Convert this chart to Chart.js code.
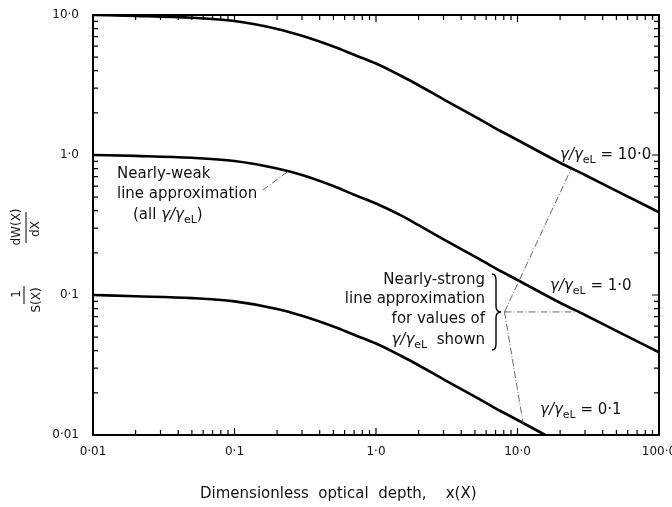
<!DOCTYPE html>
<html>
<head>
<meta charset="utf-8">
<script src="https://cdn.jsdelivr.net/npm/chart.js@4/dist/chart.umd.min.js"></script>
<style>
  html, body { margin: 0; padding: 0; background: #fff; }
  canvas { display: block; }
</style>
</head>
<body>
<canvas id="chart" width="672" height="507"></canvas>
<script>
// optical depth x(X)
const xValues = [0.01, 0.02, 0.05, 0.1, 0.2, 0.3, 0.5, 0.7, 1, 1.5, 2, 3, 5, 7, 10, 20, 30, 50, 100];
// gamma/gamma_eL = 10.0
const curveTen = [10.0, 9.85, 9.55, 9.05, 7.95, 7.1, 5.95, 5.2, 4.5, 3.68, 3.15, 2.5, 1.88, 1.55, 1.28, 0.88, 0.72, 0.555, 0.39];
// gamma/gamma_eL = 1.0
const curveOne = [1.0, 0.985, 0.955, 0.905, 0.8, 0.72, 0.6, 0.52, 0.45, 0.37, 0.315, 0.25, 0.188, 0.155, 0.128, 0.088, 0.072, 0.0555, 0.039];
// gamma/gamma_eL = 0.1
const curveTenth = [0.1, 0.098, 0.095, 0.09, 0.0795, 0.071, 0.0595, 0.052, 0.045, 0.0368, 0.0315, 0.025, 0.0188, 0.0155, 0.0128, 0.0088, 0.0072, 0.00555, 0.0039];

const xTickValues = [0.01, 0.1, 1, 10, 100];
const xTickLabels = ["0·01", "0·1", "1·0", "10·0", "100·0"];
const yTickValues = [0.01, 0.1, 1, 10];
const yTickLabels = ["0·01", "0·1", "1·0", "10·0"];

const FONT = '"DejaVu Sans", sans-serif';
const INK = "#111";

function decadeTicks(min, max) {
  let out = [];
  for (let d = Math.log10(min); d < Math.log10(max); d++) {
    for (let k = 1; k <= 9; k++) out.push(k * Math.pow(10, d));
  }
  out.push(max);
  return out;
}
function sameValue(a, b) {
  return Math.abs(Math.log10(a) - Math.log10(b)) < 1e-6;
}
function labelFor(values, labels, v) {
  let i = values.findIndex((t) => sameValue(t, v));
  return i >= 0 ? labels[i] : "";
}
function isMajor(values, v) {
  return values.some((t) => sameValue(t, v));
}
function toPoints(ys) {
  return xValues.map((x, i) => ({ x: x, y: ys[i] }));
}

// gamma / gamma_eL with small subscript, returns width
function gammaLabel(ctx, x, y, size, tail, draw) {
  ctx.textAlign = "left";
  ctx.textBaseline = "middle";
  ctx.font = `italic ${size}px ${FONT}`;
  if (draw) ctx.fillText("γ/γ", x, y);
  let w = ctx.measureText("γ/γ").width;
  ctx.font = `${Math.round(size * 0.72)}px ${FONT}`;
  if (draw) ctx.fillText("eL", x + w, y + size * 0.32);
  w += ctx.measureText("eL").width;
  if (tail) {
    ctx.font = `${size}px ${FONT}`;
    if (draw) ctx.fillText(tail, x + w, y);
    w += ctx.measureText(tail).width;
  }
  return w;
}

function rotText(ctx, text, cx, cy) {
  ctx.save();
  ctx.translate(cx, cy);
  ctx.rotate(-Math.PI / 2);
  ctx.textAlign = "center";
  ctx.textBaseline = "middle";
  ctx.fillText(text, 0, 0);
  ctx.restore();
}

// leader lines, in data coordinates
const weakLeader = [[0.158, 0.56], [0.245, 0.78]];
const braceTip = [8.1, 0.0757];
const strongTargets = [[24, 0.8], [26, 0.0757], [11, 0.0118]];

const decorations = {
  id: "decorations",
  afterDatasetsDraw(chart) {
    const { ctx, chartArea: a, scales } = chart;
    const sx = scales.x, sy = scales.y;
    ctx.save();

    // frame
    ctx.strokeStyle = "#000";
    ctx.lineWidth = 2;
    ctx.strokeRect(a.left, a.top, a.right - a.left, a.bottom - a.top);

    // inward tick marks on all four sides
    ctx.lineWidth = 1.2;
    ctx.beginPath();
    sx.ticks.forEach((t) => {
      const px = sx.getPixelForValue(t.value);
      const len = isMajor(xTickValues, t.value) ? 7 : 5;
      ctx.moveTo(px, a.bottom); ctx.lineTo(px, a.bottom - len);
      ctx.moveTo(px, a.top); ctx.lineTo(px, a.top + len);
    });
    sy.ticks.forEach((t) => {
      const py = sy.getPixelForValue(t.value);
      const len = isMajor(yTickValues, t.value) ? 7 : 5;
      ctx.moveTo(a.left, py); ctx.lineTo(a.left + len, py);
      ctx.moveTo(a.right, py); ctx.lineTo(a.right - len, py);
    });
    ctx.stroke();

    // leader lines
    ctx.strokeStyle = "#555";
    ctx.lineWidth = 0.9;
    ctx.setLineDash([7, 2, 1, 2]);
    ctx.beginPath();
    ctx.moveTo(sx.getPixelForValue(weakLeader[0][0]), sy.getPixelForValue(weakLeader[0][1]));
    ctx.lineTo(sx.getPixelForValue(weakLeader[1][0]), sy.getPixelForValue(weakLeader[1][1]));
    const tx = sx.getPixelForValue(braceTip[0]), ty = sy.getPixelForValue(braceTip[1]);
    strongTargets.forEach((p) => {
      ctx.moveTo(tx, ty);
      ctx.lineTo(sx.getPixelForValue(p[0]), sy.getPixelForValue(p[1]));
    });
    ctx.stroke();
    ctx.setLineDash([]);

    // curly brace
    ctx.strokeStyle = "#000";
    ctx.lineWidth = 1.4;
    const bx = 496, top = 274, bot = 350, mid = ty;
    ctx.beginPath();
    ctx.moveTo(bx - 4, top);
    ctx.quadraticCurveTo(bx, top, bx, top + 6);
    ctx.lineTo(bx, mid - 6);
    ctx.quadraticCurveTo(bx, mid, bx + 5, mid);
    ctx.quadraticCurveTo(bx, mid, bx, mid + 6);
    ctx.lineTo(bx, bot - 6);
    ctx.quadraticCurveTo(bx, bot, bx - 4, bot);
    ctx.stroke();

    // text annotations
    ctx.fillStyle = INK;
    ctx.font = `15px ${FONT}`;
    ctx.textBaseline = "middle";
    ctx.textAlign = "left";
    ctx.fillText("Nearly-weak", 117, 174);
    ctx.fillText("line approximation", 117, 194);
    ctx.font = `15px ${FONT}`;
    ctx.fillText("(all ", 133, 215);
    let w = ctx.measureText("(all ").width;
    gammaLabel(ctx, 133 + w, 215, 15, ")", true);

    ctx.font = `15px ${FONT}`;
    ctx.textAlign = "right";
    const rx = 485;
    ctx.fillText("Nearly-strong", rx, 280);
    ctx.fillText("line approximation", rx, 299);
    ctx.fillText("for values of", rx, 319);
    let gw = gammaLabel(ctx, 0, 0, 15, "  shown", false);
    gammaLabel(ctx, rx - gw, 340, 15, "  shown", true);

    gammaLabel(ctx, 560, 155, 15, " = 10·0", true);
    gammaLabel(ctx, 550, 286, 15, " = 1·0", true);
    gammaLabel(ctx, 540, 410, 15, " = 0·1", true);

    // x axis title
    ctx.font = `15px ${FONT}`;
    ctx.textAlign = "left";
    ctx.textBaseline = "middle";
    ctx.fillText("Dimensionless  optical  depth,    x(X)", 200, 494);

    // y axis title: (1 / S(X)) (dW(X) / dX), rotated
    ctx.font = `12px ${FONT}`;
    rotText(ctx, "dW(X)", 16.5, 227);
    rotText(ctx, "dX", 35.5, 229);
    rotText(ctx, "1", 16.5, 294);
    rotText(ctx, "S(X)", 36.5, 300);
    ctx.strokeStyle = "#000";
    ctx.lineWidth = 1;
    ctx.beginPath();
    ctx.moveTo(26, 212); ctx.lineTo(26, 243);
    ctx.moveTo(24, 286); ctx.lineTo(24, 304);
    ctx.stroke();

    ctx.restore();
  },
};

const lineStyle = {
  borderColor: "#000",
  borderWidth: 2.6,
  pointRadius: 0,
  fill: false,
  cubicInterpolationMode: "monotone",
};

new Chart(document.getElementById("chart"), {
  type: "line",
  data: {
    datasets: [
      { label: "γ/γeL = 10·0", data: toPoints(curveTen), ...lineStyle },
      { label: "γ/γeL = 1·0", data: toPoints(curveOne), ...lineStyle },
      { label: "γ/γeL = 0·1", data: toPoints(curveTenth), ...lineStyle },
    ],
  },
  options: {
    responsive: false,
    animation: false,
    layout: { padding: { left: 0, top: 15, right: 13, bottom: 0 } },
    plugins: {
      legend: { display: false },
      tooltip: { enabled: false },
    },
    scales: {
      x: {
        type: "logarithmic",
        min: 0.01,
        max: 100,
        afterBuildTicks: (s) => {
          s.ticks = decadeTicks(0.01, 100).map((v) => ({ value: v }));
        },
        afterFit: (s) => {
          s.height = 72;
          s.paddingLeft = 0;
          s.paddingRight = 0;
        },
        ticks: {
          autoSkip: false,
          maxRotation: 0,
          minRotation: 0,
          padding: 2,
          color: INK,
          font: { family: FONT, size: 12 },
          callback: (v) => labelFor(xTickValues, xTickLabels, v),
        },
        grid: { display: false },
        border: { display: false },
      },
      y: {
        type: "logarithmic",
        min: 0.01,
        max: 10,
        afterBuildTicks: (s) => {
          s.ticks = decadeTicks(0.01, 10).map((v) => ({ value: v }));
        },
        afterFit: (s) => {
          s.width = 93;
          s.paddingTop = 0;
          s.paddingBottom = 0;
        },
        ticks: {
          autoSkip: false,
          padding: 6,
          color: INK,
          font: { family: FONT, size: 12 },
          callback: (v) => labelFor(yTickValues, yTickLabels, v),
        },
        grid: { display: false },
        border: { display: false },
      },
    },
  },
  plugins: [decorations],
});
</script>
</body>
</html>
